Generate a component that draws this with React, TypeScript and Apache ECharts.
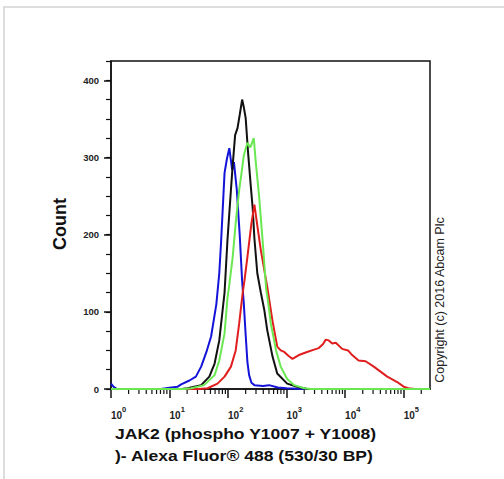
import React, { useEffect, useRef } from 'react';
import * as echarts from 'echarts';

// Fluorescence intensity (x) and event count (y)
const blueX = [1, 1.1, 1.26, 7.1, 10.7, 13.8, 15.8, 21.9, 28.2, 34.7, 42.7, 51.3, 63.1, 70.8, 75.9, 87.1, 95.5, 105, 117.5, 126, 141, 158, 174, 186, 200, 214, 229, 251, 282, 398, 501, 708, 1000, 1995, 282000];
const blueY = [7, 3, 0, 0, 2, 3, 6, 11, 16, 29, 48, 68, 110, 150, 190, 280, 298, 312, 284, 294, 258, 200, 140, 110, 70, 35, 18, 8, 5, 4, 5, 2, 1, 0, 0];

const blackX = [1, 15.8, 20.4, 26.3, 34.7, 47.9, 58.9, 70.8, 87.1, 97.7, 112, 120, 132, 145, 158, 174, 186, 200, 219, 245, 263, 282, 316, 363, 417, 468, 575, 692, 1023, 1514, 2239, 282000];
const blackY = [0, 0, 1, 3, 5, 16, 33, 63, 125, 193, 258, 290, 329, 338, 355, 375, 365, 351, 308, 262, 235, 195, 150, 125, 102, 76, 42, 20, 7, 3, 0, 0];

const greenX = [1, 17.8, 23.4, 38.9, 58.9, 70.8, 87.1, 97.7, 105, 120, 135, 155, 170, 186, 214, 240, 275, 295, 339, 389, 447, 479, 537, 661, 794, 1023, 1349, 1995, 2570, 282000];
const greenY = [0, 0, 1, 5, 18, 37, 72, 118, 135, 171, 215, 258, 280, 303, 319, 313, 325, 297, 250, 193, 130, 115, 85, 50, 29, 13, 5, 1, 0, 0];

const redX = [1, 31.6, 44.7, 66.1, 87.1, 112, 135, 155, 178, 191, 214, 251, 282, 324, 363, 468, 575, 692, 794, 912, 1072, 1259, 1622, 2239, 2951, 3548, 4169, 4677, 5248, 6026, 6918, 8913, 11220, 13183, 16982, 22387, 30903, 52481, 77625, 100000, 128825, 158489, 282000];
const redY = [0, 0, 1, 7, 16, 29, 50, 85, 125, 141, 171, 215, 239, 206, 180, 132, 88, 55, 50, 48, 43, 39, 44, 48, 51, 53, 58, 64, 63, 59, 60, 52, 50, 44, 37, 36, 29, 16, 9, 3, 0.5, 0, 0];

const xMinorTicks = [2, 3, 4, 5, 6, 7, 8, 9, 20, 30, 40, 50, 60, 70, 80, 90, 200, 300, 400, 500, 600, 700, 800, 900, 2000, 3000, 4000, 5000, 6000, 7000, 8000, 9000, 20000, 30000, 40000, 50000, 60000, 70000, 80000, 90000, 200000];
const yMajorTicks = [0, 100, 200, 300, 400];

const xTitleLines = ['JAK2 (phospho Y1007 + Y1008)', ')- Alexa Fluor\u00ae 488 (530/30 BP)'];
const yTitle = 'Count';
const copyrightText = 'Copyright (c) 2016 Abcam Plc';

const FONT = '"Liberation Sans", Arial, sans-serif';

const pairs = (xs: number[], ys: number[]) => xs.map((x, i) => [x, ys[i]]);

export default function App() {
  const ref = useRef<HTMLDivElement>(null);
  useEffect(() => {
    if (!ref.current) return;
    const chart = echarts.init(ref.current, undefined, { renderer: 'svg' });
    const lineSeries = (name: string, xs: number[], ys: number[], color: string) => ({
      name,
      type: 'line',
      data: pairs(xs, ys),
      showSymbol: false,
      symbol: 'none',
      smooth: false,
      lineStyle: { color, width: 2 },
      itemStyle: { color },
      z: 3,
    });
    chart.setOption({
      animation: false,
      backgroundColor: '#ffffff',
      textStyle: { fontFamily: FONT },
      grid: {
        left: 111, top: 61, right: 74, bottom: 90,
        show: true, borderColor: '#111', borderWidth: 1.5, backgroundColor: 'transparent',
      },
      xAxis: {
        type: 'log', logBase: 10, min: 1, max: 282000,
        axisLine: { show: true, lineStyle: { color: '#111', width: 1.5 } },
        axisTick: { show: true, length: 9, lineStyle: { color: '#111', width: 1.5 } },
        splitLine: { show: false },
        minorTick: { show: false },
        axisLabel: {
          show: true,
          showMaxLabel: false,
          align: 'left',
          margin: 16,
          color: '#222',
          formatter: (v: number) => {
            const e = Math.log10(v);
            if (Math.abs(e - Math.round(e)) > 1e-6) return '';
            return `{b|10}{s|${Math.round(e)}}`;
          },
          rich: {
            b: { fontSize: 10, fontWeight: 'bold', lineHeight: 15, verticalAlign: 'bottom', fontFamily: FONT, color: '#222' },
            s: { fontSize: 7.5, fontWeight: 'bold', lineHeight: 8, verticalAlign: 'top', fontFamily: FONT, color: '#222' },
          },
        },
      },
      yAxis: [
        {
          type: 'value', min: 0, max: 425, interval: 25,
          axisLine: { show: true, lineStyle: { color: '#111', width: 1.5 } },
          axisTick: { show: true, length: 5, lineStyle: { color: '#111', width: 1.2 } },
          splitLine: { show: false },
          axisLabel: {
            show: true, margin: 12, fontSize: 9.5, fontWeight: 'bold', color: '#222', fontFamily: FONT,
            formatter: (v: number) => (v % 100 === 0 ? String(v) : ''),
          },
        },
        {
          type: 'value', min: 0, max: 425, interval: 100, position: 'left',
          axisLine: { show: false },
          axisTick: { show: true, length: 7, customValues: yMajorTicks, lineStyle: { color: '#111', width: 1.5 } },
          axisLabel: { show: false },
          splitLine: { show: false },
        },
      ],
      series: [
        lineSeries('Blue', blueX, blueY, '#1414d8'),
        lineSeries('Black', blackX, blackY, '#111111'),
        lineSeries('Red', redX, redY, '#e01e1e'),
        lineSeries('Green', greenX, greenY, '#6ae852'),
        {
          type: 'custom',
          silent: true,
          clip: false,
          data: xMinorTicks.map((v) => [v, 0]),
          renderItem: (params: any, api: any) => {
            const p = api.coord([api.value(0), 0]);
            return {
              type: 'line',
              shape: { x1: p[0], y1: p[1], x2: p[0], y2: p[1] + 5 },
              style: { stroke: '#111', lineWidth: 1.2 },
            };
          },
          z: 1,
        },
      ],
      graphic: [
        {
          type: 'polyline', silent: true,
          shape: { points: [[4, 479], [4, 7], [504, 7]] },
          style: { stroke: '#dddddd', lineWidth: 2, fill: null },
        },
        {
          type: 'text', x: 60, y: 224, rotation: Math.PI / 2,
          style: { text: yTitle, font: `bold 18px ${FONT}`, fill: '#111', textAlign: 'center', textVerticalAlign: 'middle' },
        },
        {
          type: 'text', x: 115, y: 433, scaleX: 1.17,
          style: { text: xTitleLines[0], font: `bold 15px ${FONT}`, fill: '#111', textAlign: 'left', textVerticalAlign: 'middle' },
        },
        {
          type: 'text', x: 115, y: 455, scaleX: 1.17,
          style: { text: xTitleLines[1], font: `bold 15px ${FONT}`, fill: '#111', textAlign: 'left', textVerticalAlign: 'middle' },
        },
        {
          type: 'text', x: 440, y: 300, rotation: Math.PI / 2,
          style: { text: copyrightText, font: `12.5px ${FONT}`, fill: '#222', textAlign: 'center', textVerticalAlign: 'middle' },
        },
      ],
    });
    return () => chart.dispose();
  }, []);
  return <div ref={ref} style={{ position: 'fixed', left: 0, top: 0, width: 504, height: 479 }} />;
}
